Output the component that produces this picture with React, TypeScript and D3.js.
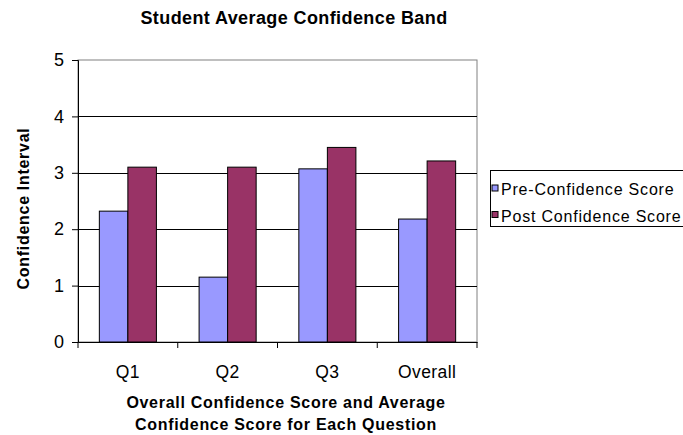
import React, { useEffect, useRef } from 'react';
import * as d3 from 'd3';

const categories = ['Q1', 'Q2', 'Q3', 'Overall'];
const seriesNames = ['Pre-Confidence Score', 'Post Confidence Score'];
const preScores = [2.32, 1.15, 3.07, 2.18];
const postScores = [3.1, 3.1, 3.45, 3.21];
const yTicks = [0, 1, 2, 3, 4, 5];
const colors = ['#9999FF', '#993366'];

export default function App() {
  const svgRef = useRef<SVGSVGElement>(null);

  useEffect(() => {
    if (!svgRef.current) return;
    const svg = d3.select(svgRef.current);
    svg.selectAll('*').remove();

    const width = 683;
    const height = 435;
    const margin = { top: 60, left: 78, right: 206, bottom: 93 };
    const innerWidth = width - margin.left - margin.right;
    const innerHeight = height - margin.top - margin.bottom;
    const font = 'Liberation Sans, Arial, sans-serif';

    svg.attr('width', width).attr('height', height).style('display', 'block');
    svg.append('rect').attr('width', width).attr('height', height).attr('fill', '#fff');

    const g = svg.append('g').attr('transform', `translate(${margin.left},${margin.top})`);

    const x = d3.scaleBand().domain(categories).range([0, innerWidth]);
    const x1 = d3.scaleBand().domain(seriesNames).range([0, x.bandwidth() * 0.572]);
    const y = d3.scaleLinear().domain([0, 5]).range([innerHeight, 0]);

    // plot border (gray top/right)
    g.append('rect')
      .attr('x', 0)
      .attr('y', 0)
      .attr('width', innerWidth)
      .attr('height', innerHeight)
      .attr('fill', 'none')
      .attr('stroke', '#808080')
      .attr('stroke-width', 1);

    // gridlines
    yTicks.slice(1, -1).forEach((t) => {
      g.append('line')
        .attr('x1', 0)
        .attr('x2', innerWidth)
        .attr('y1', Math.round(y(t)) + 0.5)
        .attr('y2', Math.round(y(t)) + 0.5)
        .attr('stroke', '#000');
    });

    // bars
    const rows = categories.map((c, i) => ({ c, vals: [preScores[i], postScores[i]] }));
    rows.forEach((r) => {
      const gx = x(r.c)! + (x.bandwidth() - x1.range()[1]) / 2;
      r.vals.forEach((v, j) => {
        g.append('rect')
          .attr('x', gx + x1(seriesNames[j])!)
          .attr('y', y(v))
          .attr('width', x1.bandwidth())
          .attr('height', innerHeight - y(v))
          .attr('fill', colors[j])
          .attr('stroke', '#000')
          .attr('stroke-width', 1);
      });
    });

    // axes
    const yAxis = g.append('g').call(d3.axisLeft(y).tickValues(yTicks).tickSize(6).tickPadding(8).tickFormat(d3.format('d')));
    yAxis.select('.domain').attr('stroke', '#000');
    yAxis.selectAll('text').attr('font-family', font).attr('font-size', 18).attr('fill', '#000');
    yAxis.selectAll('line').attr('stroke', '#000');

    const xAxis = g
      .append('g')
      .attr('transform', `translate(0,${innerHeight})`)
      .call(d3.axisBottom(x).tickSize(0).tickPadding(0));
    xAxis.select('.domain').attr('stroke', '#000');
    xAxis.selectAll('text')
      .attr('font-family', font)
      .attr('font-size', 17.5)
      .attr('letter-spacing', 0.4)
      .attr('fill', '#000')
      .attr('dy', null)
      .attr('y', 36);

    // category boundary ticks
    d3.range(categories.length + 1).forEach((i) => {
      const tx = i * x.step();
      g.append('line')
        .attr('x1', tx)
        .attr('x2', tx)
        .attr('y1', innerHeight)
        .attr('y2', innerHeight + 6)
        .attr('stroke', '#000');
    });

    // titles
    svg.append('text')
      .attr('x', 294)
      .attr('y', 24)
      .attr('text-anchor', 'middle')
      .attr('font-family', font)
      .attr('font-weight', 'bold')
      .attr('font-size', 18)
      .attr('letter-spacing', 0.4)
      .text('Student Average Confidence Band');

    const xt = svg.append('text')
      .attr('text-anchor', 'middle')
      .attr('font-family', font)
      .attr('font-weight', 'bold')
      .attr('font-size', 16)
      .attr('letter-spacing', 0.7);
    xt.append('tspan').attr('x', 286).attr('y', 408).text('Overall Confidence Score and Average');
    xt.append('tspan').attr('x', 286).attr('y', 430).text('Confidence Score for Each Question');

    svg.append('text')
      .attr('transform', `translate(29,208.5) rotate(-90)`)
      .attr('text-anchor', 'middle')
      .attr('font-family', font)
      .attr('font-weight', 'bold')
      .attr('font-size', 16)
      .attr('letter-spacing', 0.7)
      .text('Confidence Interval');

    // legend
    const lg = svg.append('g').attr('transform', 'translate(490.5,170.5)');
    lg.append('rect')
      .attr('x', 0)
      .attr('y', 0)
      .attr('width', 200)
      .attr('height', 56)
      .attr('fill', '#fff')
      .attr('stroke', '#000');
    seriesNames.forEach((s, i) => {
      const top = 14.5 + i * 26.5;
      lg.append('rect')
        .attr('x', 1.5)
        .attr('y', top)
        .attr('width', 6)
        .attr('height', 6)
        .attr('fill', colors[i])
        .attr('stroke', '#000');
      lg.append('text')
        .attr('x', 10.5)
        .attr('y', top + 10)
        .attr('font-family', font)
        .attr('font-size', 16)
        .attr('letter-spacing', 0.8)
        .text(s);
    });
  }, []);

  return (
    <div style={{ position: 'fixed', left: 0, top: 0, width: 683, height: 435, overflow: 'hidden' }}>
      <svg ref={svgRef}></svg>
    </div>
  );
}
